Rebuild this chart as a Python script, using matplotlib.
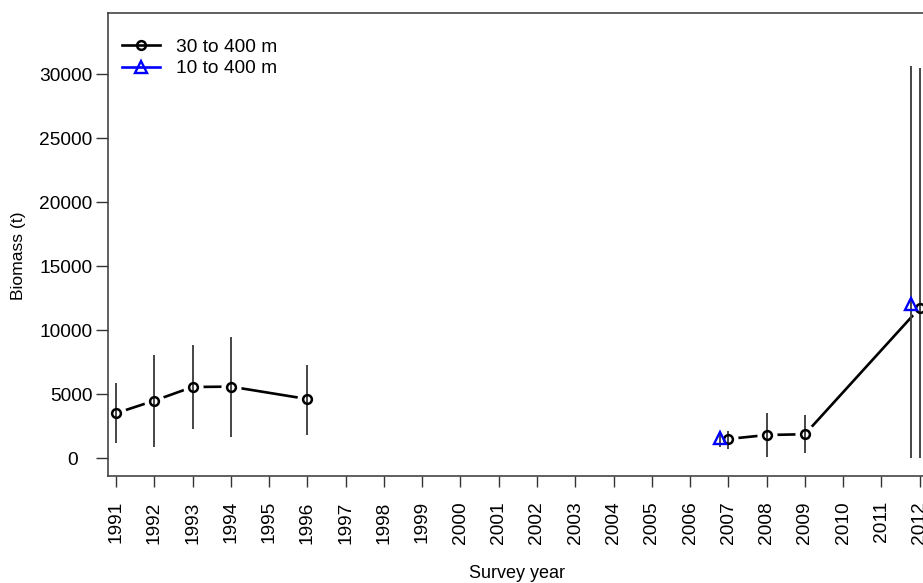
import numpy as np
import matplotlib
matplotlib.use("Agg")
import matplotlib.pyplot as plt
from matplotlib.lines import Line2D
from matplotlib.transforms import ScaledTranslation

plt.rcParams['font.family'] = ['Liberation Sans', 'DejaVu Sans']

# ---- data ----
years_30 = [1991, 1992, 1993, 1994, 1996, 2007, 2008, 2009, 2012]
biomass_30 = [3520, 4500, 5570, 5600, 4630, 1510, 1820, 1880, 11750]
lower_30 = [1170, 910, 2270, 1690, 1820, 700, 80, 390, 0]
upper_30 = [5860, 8070, 8850, 9500, 7290, 2160, 3560, 3380, 30470]
runs_30 = [5, 4]  # connected runs of points

years_10 = [2007, 2012]
biomass_10 = [1560, 12030]
lower_10 = [900, 0]
upper_10 = [2080, 30650]

label_30 = "30 to 400 m"
label_10 = "10 to 400 m"
tick_years = list(range(1991, 2013))
y_ticks = [0, 5000, 10000, 15000, 20000, 25000, 30000]

W, H = 923, 583
fig = plt.figure(figsize=(W / 100, H / 100), dpi=100)
ax = fig.add_axes([108.3 / W, 1 - 475.5 / H, (927.4 - 108.3) / W, (475.5 - 13.3) / H])

dodge = -0.22
err_col = '#454545'

# connecting lines (type "b" style)
start = 0
for n in runs_30:
    ax.plot(years_30[start:start + n], biomass_30[start:start + n], color='black',
            lw=1.9, zorder=1, solid_capstyle='butt')
    start += n
# white halos create gaps around points
ax.plot(years_30, biomass_30, ls='none', marker='o', ms=14.5, mfc='white', mec='none', zorder=2)

# error bars
ax.vlines(years_30, lower_30, upper_30, color=err_col, lw=1.4, zorder=3)
x10 = [y + dodge for y in years_10]
ax.vlines(x10, lower_10, upper_10, color=err_col, lw=1.4, zorder=3)

# markers
ax.plot(years_30, biomass_30, ls='none', marker='o', ms=6.3, mfc='none', mec='black', mew=1.8, zorder=4)
ax.plot(x10, biomass_10, ls='none', marker='^', ms=8.5, mfc='none', mec='#0000ff', mew=1.7, zorder=5)

ax.set_xlim(1990.8, 2012.2)
ax.set_ylim(-1344, 34766)
ax.set_xticks(tick_years)
ax.set_xticklabels([str(y) for y in tick_years], rotation=90, fontsize=13.8)
ax.set_yticks(y_ticks)
ax.set_yticklabels([str(v) for v in y_ticks], fontsize=13.8)
ax.tick_params(axis='x', length=8, width=1, pad=10.5, color='#333333')
ax.tick_params(axis='y', length=8.5, width=1, pad=3, color='#333333')
for s in ax.spines.values():
    s.set_color('#444444')
    s.set_linewidth(1.2)

# shift the "0" label as in reference
for lab in ax.get_yticklabels():
    if lab.get_text() == '0':
        lab.set_transform(lab.get_transform() + ScaledTranslation(-14 / 100, 0, fig.dpi_scale_trans))

fig.text(517 / W, 1 - 573 / H, "Survey year", ha='center', va='center', fontsize=13)
fig.text(19 / W, 1 - 256 / H, "Biomass (t)", ha='center', va='center', rotation=90, fontsize=12.6)

handles = [
    Line2D([], [], color='black', lw=1.9, marker='o', ms=6.3, mfc='none', mec='black', mew=1.8),
    Line2D([], [], color='#0000ff', lw=1.9, marker='^', ms=8.5, mfc='none', mec='#0000ff', mew=1.7),
]
ax.legend(handles, [label_30, label_10], loc='upper left', frameon=False, fontsize=13.8,
          handlelength=2.0, handletextpad=0.85, labelspacing=0.22,
          bbox_to_anchor=(0.0, 0.975), borderaxespad=0.3)

fig.savefig("out.png", dpi=100)
